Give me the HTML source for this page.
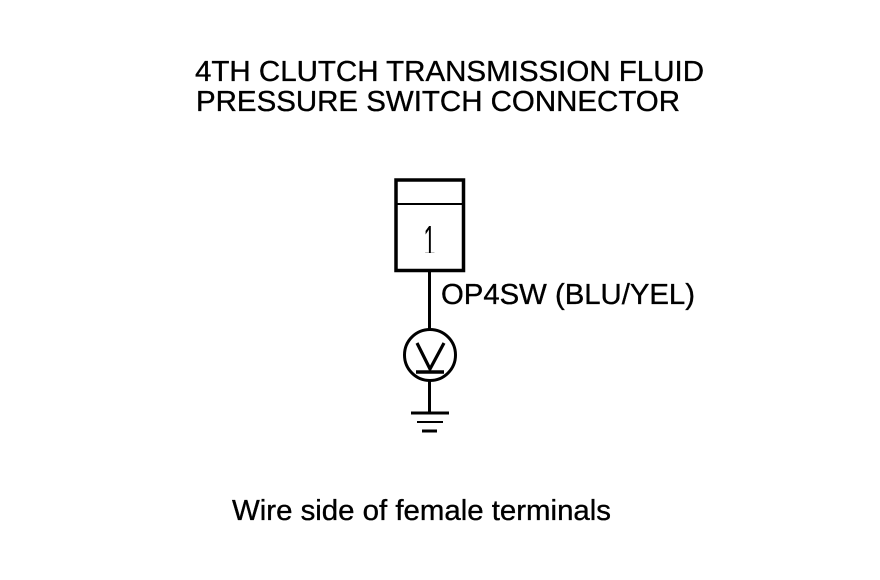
<!DOCTYPE html>
<html>
<head>
<meta charset="utf-8">
<style>
html,body{margin:0;padding:0;background:#fff;width:880px;height:580px;overflow:hidden}
svg{display:block}
text{font-family:"Liberation Sans",sans-serif;fill:#000}
.t{stroke:#000;stroke-width:0.35}
</style>
</head>
<body>
<svg width="880" height="580" viewBox="0 0 880 580" xmlns="http://www.w3.org/2000/svg">
<defs><clipPath id="c"><rect x="415" y="215" width="30" height="38"/></clipPath></defs>
<rect width="880" height="580" fill="#fff"/>
<text class="t" x="195" y="81" font-size="28.5" textLength="509" lengthAdjust="spacingAndGlyphs">4TH CLUTCH TRANSMISSION FLUID</text>
<text class="t" x="196" y="111" font-size="28.5" textLength="484" lengthAdjust="spacingAndGlyphs">PRESSURE SWITCH CONNECTOR</text>
<rect x="396" y="180" width="67.5" height="90.5" fill="none" stroke="#000" stroke-width="3.5"/>
<line x1="396" y1="204" x2="463" y2="204" stroke="#000" stroke-width="2"/>
<g clip-path="url(#c)"><text x="423.5" y="256" font-size="44" textLength="12" lengthAdjust="spacingAndGlyphs">1</text></g>
<line x1="429.5" y1="271" x2="429.5" y2="330" stroke="#000" stroke-width="3"/>
<text class="t" x="441" y="304" font-size="28.5" textLength="254" lengthAdjust="spacingAndGlyphs">OP4SW (BLU/YEL)</text>
<circle cx="430" cy="355" r="25.5" fill="none" stroke="#000" stroke-width="3"/>
<polyline points="417,343 430,369 444,343" fill="none" stroke="#000" stroke-width="3.2"/>
<line x1="416" y1="372" x2="444" y2="372" stroke="#000" stroke-width="3.5"/>
<line x1="429.5" y1="381" x2="429.5" y2="413" stroke="#000" stroke-width="3"/>
<line x1="411" y1="413" x2="449" y2="413" stroke="#000" stroke-width="3"/>
<line x1="417" y1="422" x2="443" y2="422" stroke="#000" stroke-width="2"/>
<line x1="422" y1="431" x2="437" y2="431" stroke="#000" stroke-width="3"/>
<text class="t" x="232" y="520" font-size="28.5" textLength="379" lengthAdjust="spacingAndGlyphs">Wire side of female terminals</text>
</svg>
</body>
</html>
